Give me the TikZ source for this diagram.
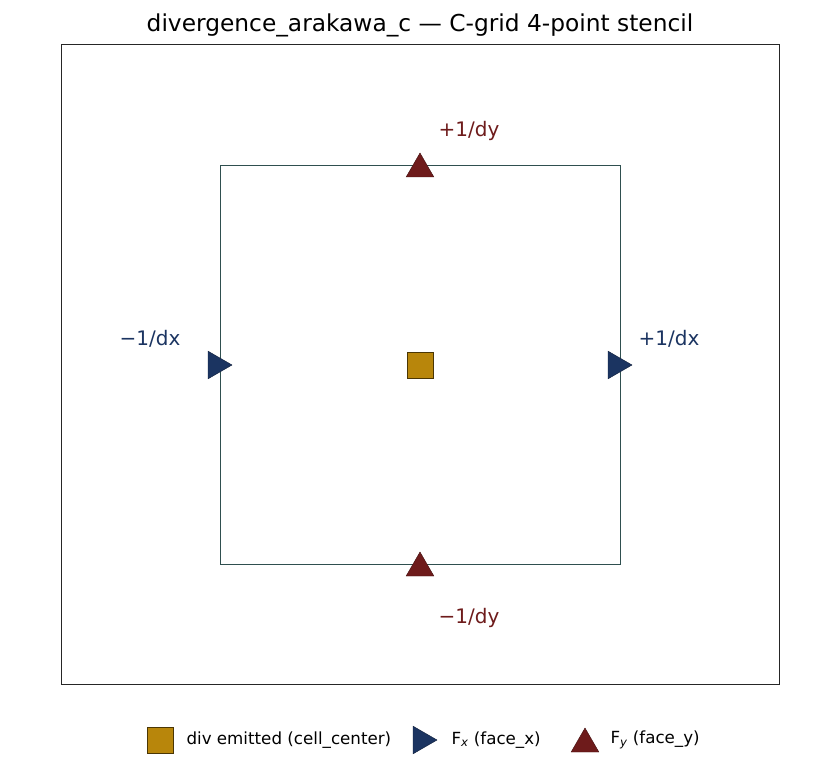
\documentclass[tikz,border=0pt]{standalone}
\usepackage{fontspec}
\setmainfont{DejaVu Sans}
\usepackage{tikz}
\usetikzlibrary{shapes.geometric, positioning}
\definecolor{cellgreen}{HTML}{2F4F4F}
\definecolor{facex}{HTML}{1B3461}
\definecolor{facey}{HTML}{6E1B1B}
\definecolor{center}{HTML}{B8860B}

\begin{document}
\begin{tikzpicture}[x=1pt, y=-1pt,
    cellbox/.style={draw=center!40!black, fill=center, minimum size=26pt, inner sep=0pt},
    fxmark/.style={regular polygon, regular polygon sides=3, shape border rotate=-90, draw=facex!60!black, fill=facex, minimum size=32pt, inner sep=0pt},
    fymark/.style={regular polygon, regular polygon sides=3, draw=facey!60!black, fill=facey, minimum size=32pt, inner sep=0pt},
    xlabel/.style={text=facex, font=\fontsize{20}{24}\selectfont},
    ylabel/.style={text=facey, font=\fontsize{20}{24}\selectfont},
    legtext/.style={anchor=west, font=\fontsize{16.7}{20}\selectfont}
]
\useasboundingbox (0,0) rectangle (840,770);

% Title and axes
\node[font=\fontsize{23.3}{28}\selectfont] (title) at (420,25) {divergence\_arakawa\_c — C-grid 4-point stencil};
\draw[black!85, line width=1pt] (61,45) rectangle (779,684);

% Cell
\coordinate (nw) at (220,165);
\coordinate (se) at (620,564);
\draw[cellgreen, line width=0.9pt] (nw) rectangle (se);

% Markers
\node[cellbox] (cc) at (420,365) {};
\node[fxmark] (west) at (216,365) {};
\node[fxmark] (east) at (616,365) {};
\node[fymark] (north) at (420,169) {};
\node[fymark] (south) at (420,568) {};

% Weights
\node[xlabel] (wl) at (150,339) {−1/dx};
\node[xlabel] (el) at (669,339) {+1/dx};
\node[ylabel] (nl) at (469,131) {+1/dy};
\node[ylabel] (sl) at (469,618) {−1/dy};

% Legend
\node[cellbox] (lg1) at (160,740) {};
\node[legtext] (lt1) at (183,740) {div emitted (cell\_center)};
\node[fxmark] (lg2) at (421,740) {};
\node[legtext] (lt2) at (448,740) {F\textsubscript{\itshape x} (face\_x)};
\node[fymark] (lg3) at (585,744) {};
\node[legtext] (lt3) at (607,740) {F\textsubscript{\itshape y} (face\_y)};
\end{tikzpicture}
\end{document}
